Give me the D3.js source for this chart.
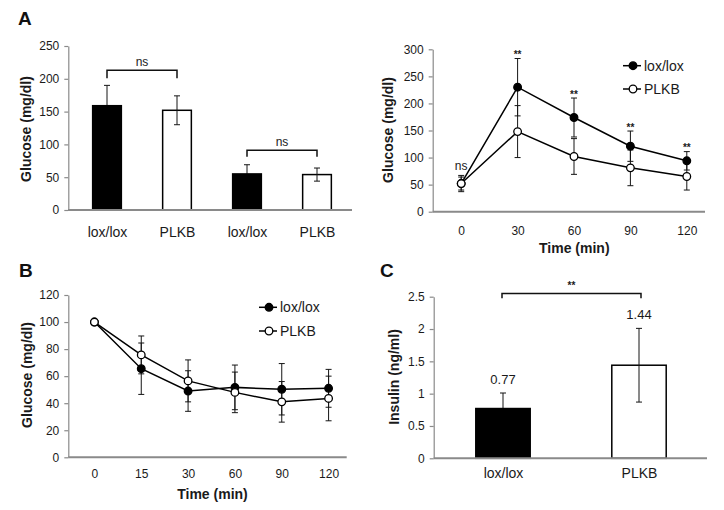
<!DOCTYPE html>
<html><head><meta charset="utf-8">
<script src="https://cdn.jsdelivr.net/npm/d3@7"></script>
<style>
body{margin:0;background:#fff}
svg{display:block;font-family:"Liberation Sans",Arial,Helvetica,sans-serif}
</style>
</head><body><svg id="c" width="724" height="510"></svg>
<script>
// ---------- DATA ----------
// Panel A (left): fasting / fed glucose bars
const aBarCats = ["lox/lox", "PLKB", "lox/lox", "PLKB"];
const aBarGroups = ["lox", "plkb", "lox", "plkb"];
const aBarVals = [159, 152, 55, 54];
const aBarErr = [31, 22, 14, 10];
const aBarTicks = [0, 50, 100, 150, 200, 250];
const aBarSig = ["ns", "ns"];
const aBarSigLevels = [[213, 201], [91, 81]];

// Panel A (right): glucose tolerance test
const gttTimes = ["0", "30", "60", "90", "120"];
const gttLox = [52, 230, 174, 121, 94];
const gttLoxErr = [15, 53, 36, 28, 17];
const gttPlkb = [52, 148, 102, 81, 65];
const gttPlkbErr = [12, 48, 33, 33, 25];
const gttSig = ["ns", "**", "**", "**", "**"];
const gttTicks = [0, 50, 100, 150, 200, 250, 300];

// Panel B: insulin tolerance test
const ittTimes = ["0", "15", "30", "60", "90", "120"];
const ittLox = [100, 65.5, 49, 51.7, 50.3, 51];
const ittLoxErr = [0, 19, 15, 16.5, 19, 14];
const ittPlkb = [100, 75.7, 56.5, 48, 41, 43.5];
const ittPlkbErr = [0, 14, 15.5, 15, 15, 16.5];
const ittTicks = [0, 20, 40, 60, 80, 100, 120];

// Panel C: insulin
const insCats = ["lox/lox", "PLKB"];
const insGroups = ["lox", "plkb"];
const insVals = [0.77, 1.44];
const insErr = [0.24, 0.57];
const insTicks = [0, 0.5, 1, 1.5, 2, 2.5];
const insSig = "**";
const insSigLevels = [2.55, 2.475];

const seriesNames = ["lox/lox", "PLKB"];

// ---------- DRAW ----------
const svg = d3.select("#c");
const AXIS = "#8a8a8a", ERR = "#151515", TXT = "#1a1a1a";

function yAxis(g, y, x0, ticks, fmt) {
  const ax = g.append("g").attr("transform", `translate(${x0},0)`)
    .call(d3.axisLeft(y).tickValues(ticks).tickSize(4).tickSizeOuter(0).tickPadding(5).tickFormat(fmt || d3.format("")));
  ax.select(".domain").attr("stroke", AXIS).attr("stroke-width", 1.2);
  ax.selectAll(".tick line").attr("stroke", AXIS).attr("stroke-width", 1.2);
  ax.selectAll(".tick text").attr("fill", TXT).style("font-size", "12px");
}
function xAxis(g, x, y0, x0, x1, pad, fs) {
  g.append("line").attr("x1", x0).attr("x2", x1).attr("y1", y0).attr("y2", y0)
    .attr("stroke", AXIS).attr("stroke-width", 2);
  const ax = g.append("g").attr("transform", `translate(0,${y0})`)
    .call(d3.axisBottom(x).tickSize(0).tickPadding(pad));
  ax.select(".domain").remove();
  ax.selectAll(".tick text").attr("fill", TXT).style("font-size", fs + "px");
}
function yTitle(g, text, x, y) {
  g.append("text").attr("transform", `translate(${x},${y}) rotate(-90)`)
    .attr("text-anchor", "middle").style("font-size", "14px").style("font-weight", "bold")
    .attr("fill", TXT).text(text);
}
function xTitle(g, text, x, y) {
  g.append("text").attr("x", x).attr("y", y).attr("text-anchor", "middle")
    .style("font-size", "14px").style("font-weight", "bold").attr("fill", TXT).text(text);
}
function letter(text, x, y) {
  svg.append("text").attr("x", x).attr("y", y).style("font-size", "19px")
    .style("font-weight", "bold").attr("fill", "#111").text(text);
}
function errBar(g, cx, yTop, yBot, cap) {
  g.append("line").attr("x1", cx).attr("x2", cx).attr("y1", yTop).attr("y2", yBot).attr("stroke", ERR).attr("stroke-width", 1);
  [yTop, yBot].forEach(v => g.append("line").attr("x1", cx - cap).attr("x2", cx + cap).attr("y1", v).attr("y2", v).attr("stroke", ERR).attr("stroke-width", 1));
}
function bracket(g, xa, xb, yLine, yEnd, label, fs, bold) {
  g.append("path").attr("d", `M${xa},${yEnd}V${yLine}H${xb}V${yEnd}`)
    .attr("fill", "none").attr("stroke", "#111").attr("stroke-width", 1.5);
  g.append("text").attr("x", (xa + xb) / 2).attr("y", yLine - 4).attr("text-anchor", "middle")
    .style("font-size", fs + "px").style("font-weight", bold ? "bold" : "normal").attr("fill", TXT).text(label);
}
function barWithErr(g, cx, bw, y, v, e, dark) {
  const drawErr = () => errBar(g, cx, y(v + e), y(v - e), 3);
  if (dark) drawErr();
  g.append("rect").attr("x", cx - bw / 2).attr("y", y(v)).attr("width", bw).attr("height", y(0) - y(v))
    .attr("fill", dark ? "#000" : "#fff").attr("stroke", "#000").attr("stroke-width", 1.5);
  if (!dark) drawErr();
}

// ---- Panel A left ----
{
  const g = svg.append("g");
  const y = d3.scaleLinear().domain([0, 250]).range([210, 46]);
  const x = d3.scalePoint().domain(d3.range(aBarCats.length)).range([72, 352]).padding(0.5);
  const bw = x.step() * 0.41;
  yAxis(g, y, 68.3, aBarTicks);
  aBarVals.forEach((v, i) => barWithErr(g, x(i), bw, y, v, aBarErr[i], aBarGroups[i] === "lox"));
  g.append("line").attr("x1", 68).attr("x2", 352).attr("y1", 210).attr("y2", 210).attr("stroke", AXIS).attr("stroke-width", 2);
  const ax = g.append("g").attr("transform", "translate(0,210)")
    .call(d3.axisBottom(x).tickSize(0).tickPadding(17).tickFormat(i => aBarCats[i]));
  ax.select(".domain").remove();
  ax.selectAll(".tick text").attr("fill", TXT).style("font-size", "14px");
  aBarSig.forEach((s, k) => {
    bracket(g, x(2 * k), x(2 * k + 1), y(aBarSigLevels[k][0]), y(aBarSigLevels[k][1]), s, 12, false);
  });
  yTitle(g, "Glucose (mg/dl)", 31, 129);
  letter("A", 18, 25);
}

// line panel helper
function linePanel(g, times, s1, e1, s2, e2, y, xr, cap) {
  const x = d3.scalePoint().domain(times).range(xr).padding(0.5);
  const sets = [[s1, e1], [s2, e2]];
  sets.forEach(([s, e]) => s.forEach((v, i) => { if (e[i] > 0) errBar(g, x(times[i]), y(v + e[i]), y(v - e[i]), cap); }));
  const line = d3.line().x((d, i) => x(times[i])).y(d => y(d));
  sets.forEach(([s]) => g.append("path").attr("d", line(s)).attr("fill", "none").attr("stroke", "#000").attr("stroke-width", 1.5));
  sets.forEach(([s], k) => s.forEach((v, i) => g.append("circle").attr("cx", x(times[i])).attr("cy", y(v)).attr("r", 3.8)
    .attr("fill", k === 0 ? "#000" : "#fff").attr("stroke", "#000").attr("stroke-width", 1.3)));
  return x;
}
function legend(g, x0, y0, dy) {
  seriesNames.forEach((n, k) => {
    const yy = y0 + k * dy;
    g.append("line").attr("x1", x0).attr("x2", x0 + 18).attr("y1", yy).attr("y2", yy).attr("stroke", "#000").attr("stroke-width", 1.5);
    g.append("circle").attr("cx", x0 + 10).attr("cy", yy).attr("r", 3.8).attr("fill", k === 0 ? "#000" : "#fff").attr("stroke", "#000").attr("stroke-width", 1.3);
    g.append("text").attr("x", x0 + 21).attr("y", yy + 5).style("font-size", "14px").attr("fill", TXT).text(n);
  });
}

// ---- Panel A right ----
{
  const g = svg.append("g");
  const y = d3.scaleLinear().domain([0, 300]).range([211.7, 49.3]);
  yAxis(g, y, 432.7, gttTicks);
  const x = d3.scalePoint().domain(gttTimes).range([433, 715]).padding(0.5);
  xAxis(g, x, 211.7, 432.7, 705, 15, 12);
  linePanel(g, gttTimes, gttLox, gttLoxErr, gttPlkb, gttPlkbErr, y, [433, 715], 3);
  gttSig.forEach((s, i) => {
    const top = y(gttLox[i] + gttLoxErr[i]);
    g.append("text").attr("x", x(gttTimes[i])).attr("y", s === "ns" ? top - 5 : top - 0.5)
      .attr("text-anchor", "middle").style("font-size", s === "ns" ? "12px" : "10px")
      .style("font-weight", s === "ns" ? "normal" : "bold").attr("fill", TXT).text(s);
  });
  legend(g, 623, 65.7, 23.3);
  yTitle(g, "Glucose (mg/dl)", 393, 130);
  xTitle(g, "Time (min)", 574.3, 252.5);
}

// ---- Panel B ----
{
  const g = svg.append("g");
  const y = d3.scaleLinear().domain([0, 120]).range([457.3, 295]);
  yAxis(g, y, 68.3, ittTicks);
  const x = d3.scalePoint().domain(ittTimes).range([71, 352]).padding(0.5);
  xAxis(g, x, 457.3, 68.3, 346.7, 12.5, 12);
  linePanel(g, ittTimes, ittLox, ittLoxErr, ittPlkb, ittPlkbErr, y, [71, 352], 3);
  legend(g, 259, 307.3, 23.7);
  yTitle(g, "Glucose (mg/dl)", 32, 375);
  xTitle(g, "Time (min)", 212.5, 499);
  letter("B", 19, 276.7);
}

// ---- Panel C ----
{
  const g = svg.append("g");
  const y = d3.scaleLinear().domain([0, 2.5]).range([458.3, 296.7]);
  yAxis(g, y, 433.7, insTicks, d3.format("~g"));
  const x = d3.scalePoint().domain(insCats.map((c, i) => i)).range([435, 707]).padding(0.5);
  const bw = x.step() * 0.4;
  insVals.forEach((v, i) => {
    barWithErr(g, x(i), bw, y, v, insErr[i], insGroups[i] === "lox");
    g.append("text").attr("x", x(i)).attr("y", y(v + insErr[i]) - 9.5).attr("text-anchor", "middle")
      .style("font-size", "13px").attr("fill", TXT).text(d3.format(".2f")(v));
  });
  g.append("line").attr("x1", 433.7).attr("x2", 707).attr("y1", 458.3).attr("y2", 458.3).attr("stroke", AXIS).attr("stroke-width", 2);
  const ax = g.append("g").attr("transform", "translate(0,458.3)")
    .call(d3.axisBottom(x).tickSize(0).tickPadding(10).tickFormat(i => insCats[i]));
  ax.select(".domain").remove();
  ax.selectAll(".tick text").attr("fill", TXT).style("font-size", "14px");
  bracket(g, x(0) - 1, x(1) + 2, y(insSigLevels[0]), y(insSigLevels[1]), insSig, 10, true);
  yTitle(g, "Insulin (ng/ml)", 398.5, 377);
  letter("C", 380, 276.7);
}
</script>
</body></html>
